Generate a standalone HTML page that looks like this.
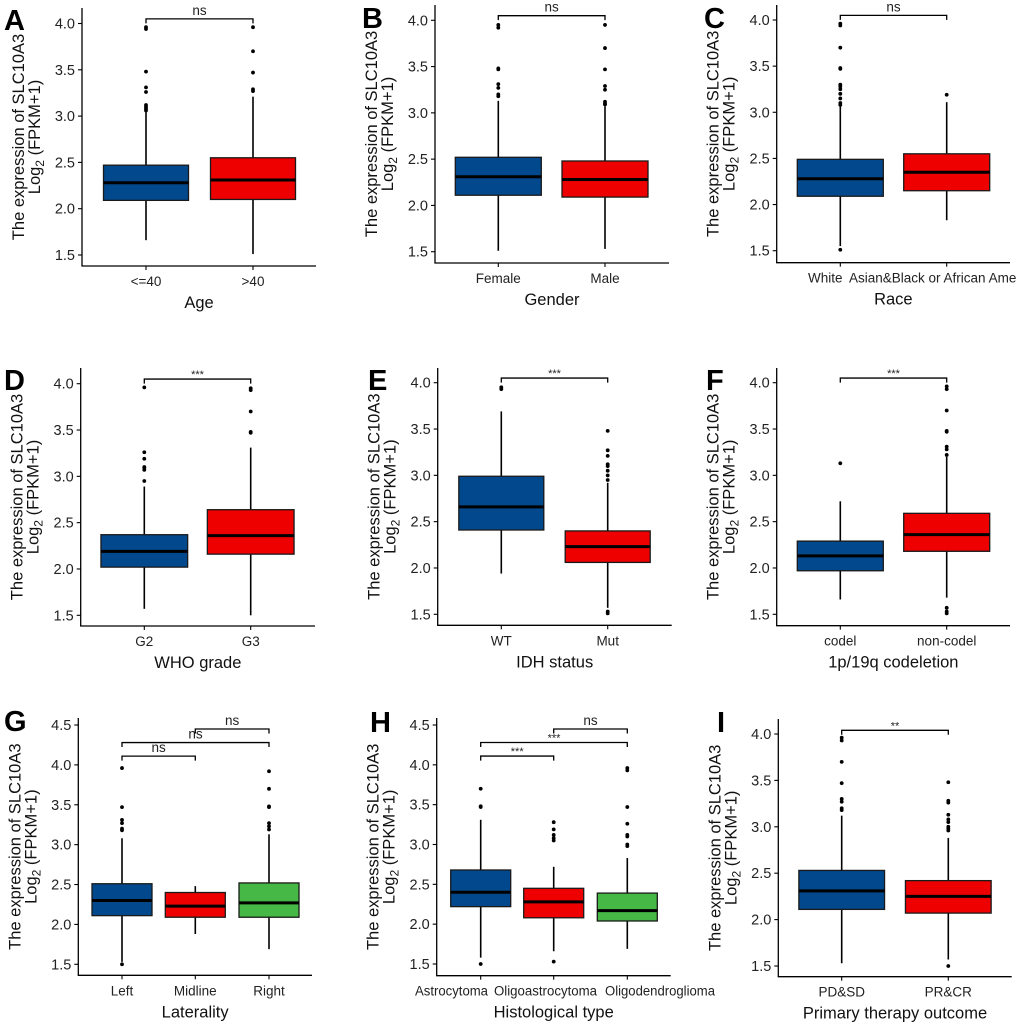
<!DOCTYPE html>
<html><head><meta charset="utf-8">
<style>
html,body{margin:0;padding:0;background:#fff;}
svg{display:block;font-family:"Liberation Sans",Arial,sans-serif;}
</style></head>
<body>
<svg id="fig" width="1020" height="1026" viewBox="0 0 1020 1026" xmlns="http://www.w3.org/2000/svg"></svg>
<script>
// ---------- data ----------
const catsA=['<=40','>40'];
const q1A=[2.09,2.10], medA=[2.28,2.31], q3A=[2.47,2.55], loA=[1.66,1.51], hiA=[3.05,3.21];
const outA=[[3.06,3.08,3.10,3.12,3.26,3.31,3.48,3.94,3.96],[3.27,3.29,3.47,3.70,3.96]];
const brA=[[0,1,4.05,'ns']];

const catsB=['Female','Male'];
const q1B=[2.11,2.09], medB=[2.31,2.28], q3B=[2.52,2.48], loB=[1.51,1.53], hiB=[3.13,3.07];
const outB=[[3.18,3.20,3.27,3.31,3.47,3.48,3.92,3.95],[3.09,3.10,3.12,3.25,3.29,3.47,3.70,3.95]];
const brB=[[0,1,4.05,'ns']];

const catsC=['White','Asian&Black or African Ame'];
const q1C=[2.09,2.15], medC=[2.28,2.35], q3C=[2.49,2.55], loC=[1.55,1.83], hiC=[3.07,3.11];
const outC=[[1.51,3.08,3.10,3.15,3.20,3.25,3.28,3.30,3.47,3.48,3.70,3.94,3.96],[3.19]];
const brC=[[0,1,4.05,'ns']];

const catsD=['G2','G3'];
const q1D=[2.02,2.16], medD=[2.19,2.36], q3D=[2.37,2.64], loD=[1.57,1.50], hiD=[2.89,3.31];
const outD=[[2.95,3.07,3.09,3.10,3.19,3.26,3.96],[3.47,3.48,3.70,3.93,3.95]];
const brD=[[0,1,4.05,'***']];

const catsE=['WT','Mut'];
const q1E=[2.41,2.06], medE=[2.66,2.23], q3E=[2.99,2.40], loE=[1.94,1.57], hiE=[3.69,2.92];
const outE=[[3.93,3.95],[1.51,1.53,2.95,3.00,3.05,3.10,3.12,3.21,3.27,3.48]];
const brE=[[0,1,4.05,'***']];

const catsF=['codel','non-codel'];
const q1F=[1.97,2.18], medF=[2.13,2.36], q3F=[2.29,2.59], loF=[1.66,1.68], hiF=[2.72,3.20];
const outF=[[3.13],[1.51,1.53,1.57,3.22,3.28,3.31,3.47,3.48,3.70,3.93,3.96]];
const brF=[[0,1,4.05,'***']];

const catsG=['Left','Midline','Right'];
const q1G=[2.11,2.09,2.09], medG=[2.30,2.23,2.27], q3G=[2.51,2.40,2.52], loG=[1.53,1.88,1.69], hiG=[3.08,2.48,3.13];
const outG=[[1.50,3.18,3.20,3.27,3.31,3.47,3.96],[],[3.19,3.23,3.27,3.47,3.48,3.70,3.92]];
const brG=[[0,1,4.11,'ns'],[0,2,4.28,'ns'],[1,2,4.45,'ns']];

const catsH=['Astrocytoma','Oligoastrocytoma','Oligodendroglioma'];
const q1H=[2.22,2.08,2.04], medH=[2.40,2.28,2.17], q3H=[2.68,2.45,2.39], loH=[1.58,1.66,1.69], hiH=[3.31,2.72,2.83];
const outH=[[1.50,3.47,3.48,3.70],[1.53,3.05,3.08,3.12,3.19,3.28],[2.98,3.00,3.10,3.12,3.26,3.47,3.93,3.96]];
const brH=[[0,1,4.11,'***'],[0,2,4.28,'***'],[1,2,4.45,'ns']];

const catsI=['PD&SD','PR&CR'];
const q1I=[2.11,2.07], medI=[2.31,2.25], q3I=[2.53,2.42], loI=[1.53,1.57], hiI=[3.12,2.88];
const outI=[[3.18,3.20,3.27,3.30,3.47,3.70,3.93,3.96],[1.50,2.96,2.98,3.00,3.05,3.08,3.13,3.26,3.28,3.48]];
const brI=[[0,1,4.04,'**']];

const ticks2=[1.5,2.0,2.5,3.0,3.5,4.0];
const ticks3=[1.5,2.0,2.5,3.0,3.5,4.0,4.5];
const tickLabels2=['1.5','2.0','2.5','3.0','3.5','4.0'];
const tickLabels3=['1.5','2.0','2.5','3.0','3.5','4.0','4.5'];
const cols2=['#02488c','#ee0000'];
const cols3=['#02488c','#ee0000','#45b845'];

// ---------- layout (geometry, not data) ----------
const panels=[
 {L:'A',title:'Age',ax:82,top:8,bot:266,right:316,yA:255,yB:23.5,vB:4.0,cx:[146,253],bw:85,cats:catsA,q1:q1A,med:medA,q3:q3A,lo:loA,hi:hiA,out:outA,br:brA,lx:4,ly:30},
 {L:'B',title:'Gender',ax:435,top:5,bot:263,right:669,yA:251.7,yB:20.3,vB:4.0,cx:[498.3,605],bw:86,cats:catsB,q1:q1B,med:medB,q3:q3B,lo:loB,hi:hiB,out:outB,br:brB,lx:362,ly:28},
 {L:'C',title:'Race',ax:776.7,top:5,bot:262.7,right:1010,yA:250.7,yB:20,vB:4.0,cx:[840.3,946.7],bw:86,cats:catsC,q1:q1C,med:medC,q3:q3C,lo:loC,hi:hiC,out:outC,br:brC,lx:704,ly:28,lstart:[808,849]},
 {L:'D',title:'WHO grade',ax:80.7,top:368,bot:626,right:315,yA:615.3,yB:383.7,vB:4.0,cx:[144.3,250.7],bw:86.7,cats:catsD,q1:q1D,med:medD,q3:q3D,lo:loD,hi:hiD,out:outD,br:brD,lx:4,ly:390},
 {L:'E',title:'IDH status',ax:437.7,top:368,bot:625.3,right:671.7,yA:614.3,yB:382.7,vB:4.0,cx:[501.3,607.7],bw:85,cats:catsE,q1:q1E,med:medE,q3:q3E,lo:loE,hi:hiE,out:outE,br:brE,lx:368,ly:390},
 {L:'F',title:'1p/19q codeletion',ax:776.7,top:368,bot:625.7,right:1010,yA:614.3,yB:382.7,vB:4.0,cx:[840.3,946.7],bw:86,cats:catsF,q1:q1F,med:medF,q3:q3F,lo:loF,hi:hiF,out:outF,br:brF,lx:706,ly:390},
 {L:'G',title:'Laterality',ax:78.3,top:718,bot:975.3,right:312,yA:964.3,yB:725,vB:4.5,cx:[122,195.3,269],bw:60,cats:catsG,q1:q1G,med:medG,q3:q3G,lo:loG,hi:hiG,out:outG,br:brG,lx:4,ly:731},
 {L:'H',title:'Histological type',ax:436.7,top:718,bot:975.7,right:670.7,yA:964,yB:725,vB:4.5,cx:[480.7,553.7,627.3],bw:60,cats:catsH,q1:q1H,med:medH,q3:q3H,lo:loH,hi:hiH,out:outH,br:brH,lx:370,ly:732,lstart:[415,494,605],lw:[73,103,110]},
 {L:'I',title:'Primary therapy outcome',ax:778.3,top:719,bot:976.7,right:1011.7,yA:966,yB:734,vB:4.0,cx:[841.7,948.3],bw:85.7,cats:catsI,q1:q1I,med:medI,q3:q3I,lo:loI,hi:hiI,out:outI,br:brI,lx:717,ly:732}
];

const NS='http://www.w3.org/2000/svg';
const svg=document.getElementById('fig');
function mk(tag,attrs,parent){const e=document.createElementNS(NS,tag);for(const k in attrs)e.setAttribute(k,attrs[k]);(parent||svg).appendChild(e);return e;}

panels.forEach(p=>{
  const g=mk('g',{});
  
  
  const y=v=>p.yA-(v-1.5)*(p.yA-p.yB)/(p.vB-1.5);
  const n=p.cats.length;
  const ticks=p.vB===4.5?ticks3:ticks2;
  const tl=p.vB===4.5?tickLabels3:tickLabels2;
  const cols=n===3?cols3:cols2;
  const lt=mk('text',{x:p.lx,y:p.ly,'font-size':29,'font-weight':'bold',fill:'#000'},g);
  lt.textContent=p.L;
  
  
  const ya=mk('line',{x1:p.ax,y1:p.top,x2:p.ax,y2:p.bot,stroke:'#000','stroke-width':1.3},g);
  
  
  const xa=mk('line',{x1:p.ax-0.6,y1:p.bot,x2:p.right,y2:p.bot,stroke:'#000','stroke-width':1.3},g);
  
  
  ticks.forEach((t,i)=>{
    mk('line',{x1:p.ax-4,y1:y(t),x2:p.ax,y2:y(t),stroke:'#000','stroke-width':1.1},g);
    const tt=mk('text',{x:p.ax-7,y:y(t)+5,'font-size':14.5,'text-anchor':'end',fill:'#222'},g);
    tt.textContent=tl[i];
    
    
  });
  const yc=(p.top+p.bot)/2;
  const yt=mk('text',{x:0,y:0,'font-size':16.5,'text-anchor':'middle',fill:'#111',transform:`translate(${p.ax-58},${yc}) rotate(-90)`},g);
  yt.textContent='The expression of SLC10A3';
  
  
  const yt2=mk('text',{x:0,y:0,'font-size':16.5,'text-anchor':'middle',fill:'#111',transform:`translate(${p.ax-42},${yc}) rotate(-90)`},g);
  yt2.innerHTML='Log<tspan font-size="12" dy="4">2</tspan><tspan dy="-4"> (FPKM+1)</tspan>';
  
  
  p.cats.forEach((c,i)=>{
    mk('line',{x1:p.cx[i],y1:p.bot,x2:p.cx[i],y2:p.bot+4,stroke:'#000','stroke-width':1.1},g);
    const at=p.lstart?{x:p.lstart[i],'text-anchor':'start'}:{x:p.cx[i],'text-anchor':'middle'};
    if(p.lw){at.textLength=p.lw[i];at.lengthAdjust='spacingAndGlyphs';}
    at.y=p.bot+20;at['font-size']=13.5;at.fill='#222';
    const xt=mk('text',at,g);
    xt.textContent=c;
    
    
  });
  const xtl=mk('text',{x:(p.ax+p.right)/2,y:p.bot+42,'font-size':16.5,'text-anchor':'middle',fill:'#111'},g);
  xtl.textContent=p.title;
  
  
  p.cats.forEach((c,i)=>{
    const bg=mk('g',{},g);
    
    
    const x=p.cx[i],h=p.bw/2;
    mk('line',{x1:x,y1:y(p.hi[i]),x2:x,y2:y(p.q3[i]),stroke:'#000','stroke-width':1.6},bg);
    mk('line',{x1:x,y1:y(p.lo[i]),x2:x,y2:y(p.q1[i]),stroke:'#000','stroke-width':1.6},bg);
    mk('rect',{x:x-h,y:y(p.q3[i]),width:p.bw,height:y(p.q1[i])-y(p.q3[i]),fill:cols[i],stroke:'#1a1a1a','stroke-width':1.3},bg);
    mk('line',{x1:x-h,y1:y(p.med[i]),x2:x+h,y2:y(p.med[i]),stroke:'#000','stroke-width':3},bg);
    p.out[i].forEach(v=>mk('circle',{cx:x,cy:y(v),r:1.9,fill:'#000'},bg));
  });
  p.br.forEach(b=>{
    const bg=mk('g',{},g);
    
    
    const x1=p.cx[b[0]],x2=p.cx[b[1]],yy=y(b[2]),d=4.5;
    mk('path',{d:`M${x1},${yy+d}V${yy}H${x2}V${yy+d}`,fill:'none',stroke:'#000','stroke-width':1.3},bg);
    const st=mk('text',{x:(x1+x2)/2,y:b[3]==='ns'?yy-4:yy-1,'font-size':b[3]==='ns'?13.5:11,'text-anchor':'middle',fill:'#222'},bg);
    st.textContent=b[3];
  });
});
</script>
</body></html>
